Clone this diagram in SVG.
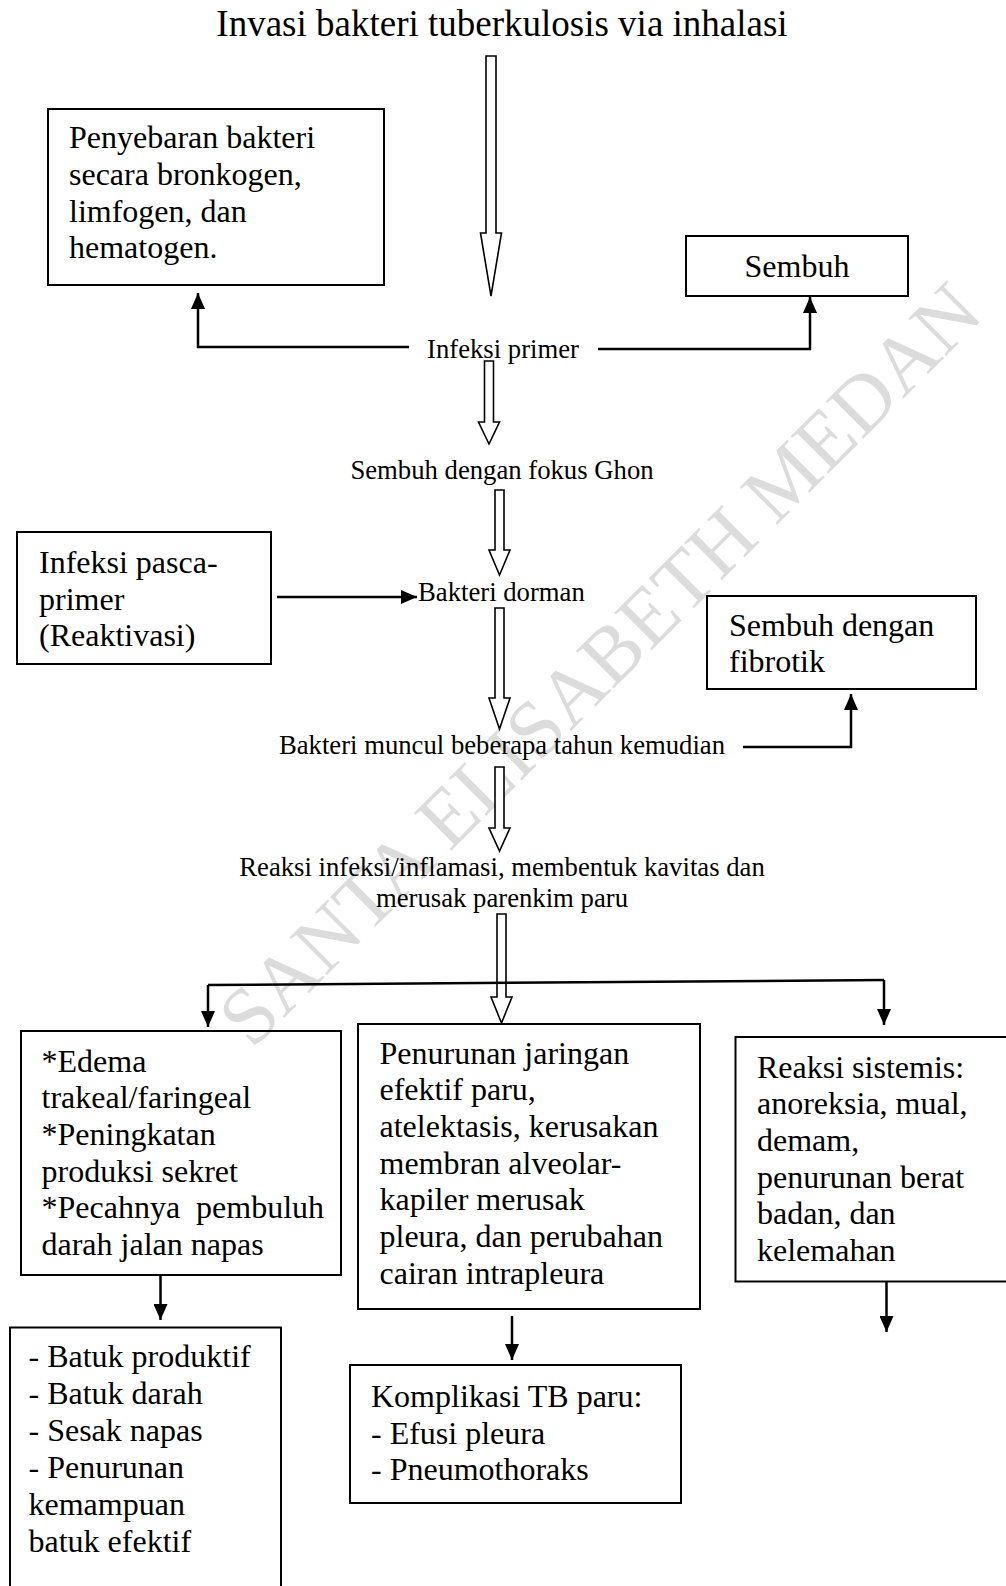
<svg xmlns="http://www.w3.org/2000/svg" width="1006" height="1586" viewBox="0 0 1006 1586">
<defs>
<style>
text{font-family:"Liberation Serif","Times New Roman",serif;fill:#000}
.t{font-size:37px}
.b{font-size:32px}
.s{font-size:26.7px}
.box{fill:none;stroke:#000;stroke-width:2}
.ln{fill:none;stroke:#000;stroke-width:2.5}
.ho{fill:#fff;stroke:#000;stroke-width:1.6}
.wm{font-size:81px;fill:#dcdcdc}
</style>
<marker id="ah" markerUnits="userSpaceOnUse" markerWidth="16" markerHeight="14" refX="16" refY="7" orient="auto">
<path d="M0,0 L16,7 L0,14 z" fill="#000"/>
</marker>
</defs>
<rect width="1006" height="1586" fill="#fff"/>
<g id="watermark">
<text class="wm" transform="translate(252,1050) rotate(-45)">SANTA ELISABETH MEDAN</text>
</g>
<g id="connectors">
<polygon class="ho" points="486,56 496,56 496,233 501.5,233 491,296 480.5,233 486,233"/>
<polygon class="ho" points="484.5,361 493.5,361 493.5,422 499.5,422 489,444 478.5,422 484.5,422"/>
<polygon class="ho" points="495,490 504,490 504,550 510,550 499.5,575 489,550 495,550"/>
<polygon class="ho" points="495,608 504,608 504,698 510,698 499.5,729 489,698 495,698"/>
<polygon class="ho" points="495,767 504,767 504,828 510,828 499.5,851 489,828 495,828"/>
<polygon class="ho" points="497,914 506,914 506,997 512,997 501.5,1023 491,997 497,997"/>
<polyline class="ln" points="409,347 198,347 198,293" marker-end="url(#ah)"/>
<polyline class="ln" points="598,349 810,349 810,297" marker-end="url(#ah)"/>
<polyline class="ln" points="277,597 417,597" marker-end="url(#ah)"/>
<polyline class="ln" points="743,747 851,747 851,694" marker-end="url(#ah)"/>
<polyline class="ln" points="208,985 884,980"/>
<polyline class="ln" points="208,985 208,1027" marker-end="url(#ah)"/>
<polyline class="ln" points="884,980 884,1025" marker-end="url(#ah)"/>
<polyline class="ln" points="160.5,1275 160.5,1320" marker-end="url(#ah)"/>
<polyline class="ln" points="512,1316 512,1360" marker-end="url(#ah)"/>
<polyline class="ln" points="886.5,1281 886.5,1332" marker-end="url(#ah)"/>
</g>
<g id="title"><text class="t" x="502" y="36" text-anchor="middle">Invasi bakteri tuberkulosis via inhalasi</text></g>
<g id="penyebaran">
<rect class="box" x="48" y="109" width="336" height="176"/>
<text class="b"><tspan x="69" y="148">Penyebaran bakteri</tspan><tspan x="69" y="185">secara bronkogen,</tspan><tspan x="69" y="221.5">limfogen, dan</tspan><tspan x="69" y="258">hematogen.</tspan></text>
</g>
<g id="sembuh">
<rect class="box" x="686" y="236" width="222" height="60"/>
<text class="b" x="797" y="277" text-anchor="middle">Sembuh</text>
</g>
<g id="infeksi-primer"><text class="s" x="503" y="357.5" text-anchor="middle">Infeksi primer</text></g>
<g id="fokus-ghon"><text class="s" x="502" y="479" text-anchor="middle">Sembuh dengan fokus Ghon</text></g>
<g id="pasca">
<rect class="box" x="17" y="532" width="254" height="132"/>
<text class="b"><tspan x="39" y="573">Infeksi pasca-</tspan><tspan x="39" y="609.5">primer</tspan><tspan x="39" y="646">(Reaktivasi)</tspan></text>
</g>
<g id="dorman"><text class="s" x="418" y="601">Bakteri dorman</text></g>
<g id="fibrotik">
<rect class="box" x="707" y="596" width="269" height="93"/>
<text class="b"><tspan x="729" y="635.5">Sembuh dengan</tspan><tspan x="729" y="672">fibrotik</tspan></text>
</g>
<g id="muncul"><text class="s" x="502" y="754" text-anchor="middle">Bakteri muncul beberapa tahun kemudian</text></g>
<g id="reaksi-infeksi"><text class="s" text-anchor="middle"><tspan x="502" y="876">Reaksi infeksi/inflamasi, membentuk kavitas dan</tspan><tspan x="502" y="907">merusak parenkim paru</tspan></text></g>
<g id="edema">
<rect class="box" x="21" y="1031" width="320" height="244"/>
<text class="b"><tspan x="41.5" y="1071.5">*Edema</tspan><tspan x="41.5" y="1108.2">trakeal/faringeal</tspan><tspan x="41.5" y="1144.9">*Peningkatan</tspan><tspan x="41.5" y="1181.6">produksi sekret</tspan><tspan x="41.5" y="1218.3">*Pecahnya&#160; pembuluh</tspan><tspan x="41.5" y="1255">darah jalan napas</tspan></text>
</g>
<g id="penurunan">
<rect class="box" x="358" y="1024" width="342" height="285"/>
<text class="b"><tspan x="379.5" y="1063.5">Penurunan jaringan</tspan><tspan x="379.5" y="1100.2">efektif paru,</tspan><tspan x="379.5" y="1136.9">atelektasis, kerusakan</tspan><tspan x="379.5" y="1173.6">membran alveolar-</tspan><tspan x="379.5" y="1210.3">kapiler merusak</tspan><tspan x="379.5" y="1247">pleura, dan perubahan</tspan><tspan x="379.5" y="1283.7">cairan intrapleura</tspan></text>
</g>
<g id="sistemis">
<rect class="box" x="735.5" y="1037" width="280" height="244.5"/>
<text class="b"><tspan x="757" y="1077.5">Reaksi sistemis:</tspan><tspan x="757" y="1114.2">anoreksia, mual,</tspan><tspan x="757" y="1150.9">demam,</tspan><tspan x="757" y="1187.6">penurunan berat</tspan><tspan x="757" y="1224.3">badan, dan</tspan><tspan x="757" y="1261">kelemahan</tspan></text>
</g>
<g id="batuk">
<rect class="box" x="10" y="1327.5" width="271" height="300"/>
<text class="b"><tspan x="28.5" y="1367">- Batuk produktif</tspan><tspan x="28.5" y="1404">- Batuk darah</tspan><tspan x="28.5" y="1441">- Sesak napas</tspan><tspan x="28.5" y="1478">- Penurunan</tspan><tspan x="28.5" y="1515">kemampuan</tspan><tspan x="28.5" y="1552">batuk efektif</tspan></text>
</g>
<g id="komplikasi">
<rect class="box" x="350" y="1365" width="331" height="138"/>
<text class="b"><tspan x="371" y="1407">Komplikasi TB paru:</tspan><tspan x="371" y="1443.5">- Efusi pleura</tspan><tspan x="371" y="1480">- Pneumothoraks</tspan></text>
</g>
</svg>
